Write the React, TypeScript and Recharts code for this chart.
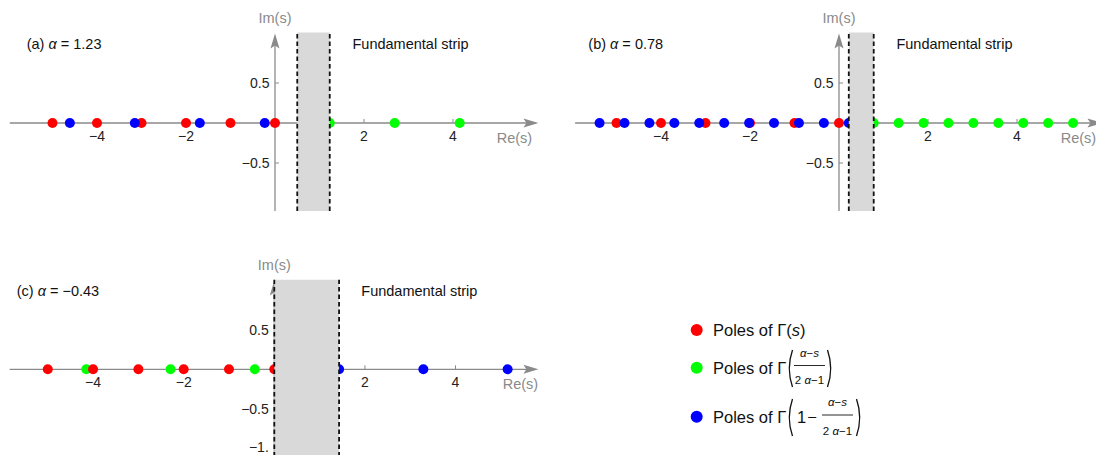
import React from "react";
import {
  ScatterChart,
  Scatter,
  XAxis,
  YAxis,
  ReferenceArea,
  ReferenceLine,
  ReferenceDot
} from "recharts";

const FONT = '"Liberation Sans", Arial, sans-serif';
const AXIS = "#8a8a8a";
const INK = "#222";

const redA = [0, -1, -2, -3, -4, -5];
const greenA = [1.23, 2.69, 4.15];
const blueA = [-0.23, -1.69, -3.15, -4.61];

const redB = [0, -1, -2, -3, -4, -5];
const greenB = [0.78, 1.34, 1.9, 2.46, 3.02, 3.58, 4.14, 4.7, 5.26];
const blueB = [0.22, -0.34, -0.9, -1.46, -2.02, -2.58, -3.14, -3.7, -4.26, -4.82, -5.38];

const redC = [0, -1, -2, -3, -4, -5];
const greenC = [-0.43, -2.29, -4.15];
const blueC = [1.43, 3.29, 5.15];

// fundamental strips [left, right]
const stripA = [0.5, 1.23];
const stripB = [0.22, 0.78];
const stripC = [0, 1.43];

const xTicks = [-4, -2, 2, 4];
const yTicksAB = [0.5, -0.5];
const yTicksC = [0.5, -0.5, -1];

const toPoints = (xs: number[]) => xs.map((x) => ({ x, y: 0 }));

const fmtX = (v: number) => (v < 0 ? "\u2212" + Math.abs(v) : String(v));
const fmtY = (v: number) => {
  const s = Number.isInteger(v) ? Math.abs(v) + "." : String(Math.abs(v));
  return v < 0 ? "\u2212" + s : s;
};

const dot = (color: string) => (p: any) => (
  <circle cx={p.cx} cy={p.cy} r={5} fill={color} />
);

const XArrow = (p: any, dx: number) => {
  const { x1, y1, x2, y2 } = p;
  return (
    <g>
      <line x1={x1} y1={y1} x2={x2 - 10} y2={y2} stroke={AXIS} strokeWidth={1.3} />
      <path
        d={`M${x2},${y2} L${x2 - 15},${y2 - 4.5} L${x2 - 12},${y2} L${x2 - 15},${y2 + 4.5} Z`}
        fill={AXIS}
      />
      <text
        x={x2 + dx}
        y={y2 + 15}
        textAnchor="middle"
        dominantBaseline="central"
        fontFamily={FONT}
        fontSize={14.5}
        fill={AXIS}
      >
        Re(s)
      </text>
    </g>
  );
};

const YArrow = (p: any) => {
  const { x1, y1, x2, y2 } = p;
  return (
    <g>
      <line x1={x1} y1={y1} x2={x2} y2={y2 + 10} stroke={AXIS} strokeWidth={1.3} />
      <path
        d={`M${x2},${y2} L${x2 - 4.5},${y2 + 15} L${x2},${y2 + 12} L${x2 + 4.5},${y2 + 15} Z`}
        fill={AXIS}
      />
      <text
        x={x2}
        y={y2 - 15}
        textAnchor="middle"
        dominantBaseline="central"
        fontFamily={FONT}
        fontSize={14.5}
        fill={AXIS}
      >
        Im(s)
      </text>
    </g>
  );
};

const XTick = (p: any, label: string) => (
  <g>
    <line x1={p.cx} y1={p.cy} x2={p.cx} y2={p.cy - 4} stroke={AXIS} strokeWidth={1} />
    <text
      x={p.cx}
      y={p.cy + 12.5}
      textAnchor="middle"
      dominantBaseline="central"
      fontFamily={FONT}
      fontSize={14}
      fill={INK}
    >
      {label}
    </text>
  </g>
);

const YTick = (p: any, label: string, dy: number) => (
  <g>
    <line x1={p.cx} y1={p.cy} x2={p.cx + 4} y2={p.cy} stroke={AXIS} strokeWidth={1} />
    <text
      x={p.cx - 5.5}
      y={p.cy + dy}
      textAnchor="end"
      dominantBaseline="central"
      fontFamily={FONT}
      fontSize={14}
      fill={INK}
    >
      {label}
    </text>
  </g>
);

type PanelCfg = {
  left: number;
  top: number;
  margin: { top: number; right: number; bottom: number; left: number };
  xDomain: [number, number];
  xStart: number;
  xEnd: number;
  reDx: number;
  red: number[];
  green: number[];
  blue: number[];
  strip: number[];
  yTicks: number[];
};

const Y_DOMAIN: [number, number] = [-1.1, 1.13];

function Panel({ cfg }: { cfg: PanelCfg }) {
  return (
    <div style={{ position: "absolute", left: cfg.left, top: cfg.top }}>
      <ScatterChart width={550} height={225} margin={cfg.margin}>
        <XAxis type="number" dataKey="x" domain={cfg.xDomain} hide allowDataOverflow />
        <YAxis type="number" dataKey="y" domain={Y_DOMAIN} hide allowDataOverflow />

        {/* axes through the origin */}
        <ReferenceLine
          segment={[{ x: cfg.xStart, y: 0 }, { x: cfg.xEnd, y: 0 }]}
          shape={(p: any) => XArrow(p, cfg.reDx)}
          zIndex={100}
        />
        <ReferenceLine
          segment={[{ x: 0, y: -1.1 }, { x: 0, y: 1.12 }]}
          shape={YArrow}
          zIndex={100}
        />
        {xTicks.map((t) => (
          <ReferenceDot
            key={"x" + t}
            x={t}
            y={0}
            shape={(p: any) => XTick(p, fmtX(t))}
            zIndex={100}
          />
        ))}
        {cfg.yTicks.map((t) => (
          <ReferenceDot
            key={"y" + t}
            x={0}
            y={t}
            shape={(p: any) => YTick(p, fmtY(t), t === -1 ? -2 : 0)}
            zIndex={100}
          />
        ))}

        <Scatter data={toPoints(cfg.green)} shape={dot("#00ff00")} isAnimationActive={false} zIndex={600} />
        <Scatter data={toPoints(cfg.red)} shape={dot("#ff0000")} isAnimationActive={false} zIndex={600} />
        <Scatter data={toPoints(cfg.blue)} shape={dot("#0000ff")} isAnimationActive={false} zIndex={600} />

        {/* fundamental strip sits on top of the poles */}
        <ReferenceArea
          x1={cfg.strip[0]}
          x2={cfg.strip[1]}
          fill="#d9d9d9"
          fillOpacity={1}
          stroke="none"
          zIndex={700}
        />
        <ReferenceLine x={cfg.strip[0]} stroke="#111" strokeWidth={1.8} strokeDasharray="4.5 3" zIndex={800} />
        <ReferenceLine x={cfg.strip[1]} stroke="#111" strokeWidth={1.8} strokeDasharray="4.5 3" zIndex={800} />
      </ScatterChart>
    </div>
  );
}

const panelA: PanelCfg = {
  left: 0,
  top: 0,
  margin: { top: 32.6, right: 8, bottom: 14, left: 8 },
  xDomain: [-6, 6],
  xStart: -5.96,
  xEnd: 5.92,
  reDx: -24,
  red: redA,
  green: greenA,
  blue: blueA,
  strip: stripA,
  yTicks: yTicksAB
};

const panelB: PanelCfg = {
  left: 564,
  top: 0,
  margin: { top: 32.6, right: 8, bottom: 14, left: 8 },
  xDomain: [-6, 6],
  xStart: -5.93,
  xEnd: 5.92,
  reDx: -24,
  red: redB,
  green: greenB,
  blue: blueB,
  strip: stripB,
  yTicks: yTicksAB
};

const panelC: PanelCfg = {
  left: 0,
  top: 247,
  margin: { top: 32.7, right: 8.4, bottom: 15.5, left: 7 },
  xDomain: [-5.9, 5.9],
  xStart: -5.84,
  xEnd: 5.83,
  reDx: -18,
  red: redC,
  green: greenC,
  blue: blueC,
  strip: stripC,
  yTicks: yTicksC
};

const txt = { fontFamily: FONT, fill: "#111", dominantBaseline: "central" as const };

function Title({ x, y, tag, alpha }: { x: number; y: number; tag: string; alpha: string }) {
  return (
    <text x={x} y={y} fontSize={14.5} {...txt}>
      {tag} <tspan fontStyle="italic">α</tspan> = {alpha}
    </text>
  );
}

const paren = (x: number, top: number, bottom: number, right = false) => {
  const mid = (top + bottom) / 2;
  const bow = right ? 4 : -4;
  return (
    <path
      d={`M${x},${top} Q${x + bow * 1.6},${mid} ${x},${bottom}`}
      stroke="#111"
      strokeWidth={1.3}
      fill="none"
    />
  );
};

function Frac({ cx, top, bar, bottom, w }: { cx: number; top: number; bar: number; bottom: number; w: number }) {
  return (
    <g>
      <text x={cx} y={top} fontSize={11.5} textAnchor="middle" {...txt}>
        <tspan fontStyle="italic">α</tspan>−<tspan fontStyle="italic">s</tspan>
      </text>
      <line x1={cx - w / 2} y1={bar} x2={cx + w / 2} y2={bar} stroke="#111" strokeWidth={0.9} />
      <text x={cx} y={bottom} fontSize={11.5} textAnchor="middle" {...txt}>
        2 <tspan fontStyle="italic">α</tspan>−1
      </text>
    </g>
  );
}

function Overlay() {
  return (
    <svg
      width={1096}
      height={455}
      style={{ position: "absolute", left: 0, top: 0, pointerEvents: "none" }}
    >
      <Title x={26.7} y={43.5} tag="(a)" alpha="1.23" />
      <Title x={588.3} y={43.5} tag="(b)" alpha="0.78" />
      <Title x={16.7} y={290.7} tag="(c)" alpha="−0.43" />
      <text x={352.5} y={43.5} fontSize={14.5} {...txt}>Fundamental strip</text>
      <text x={896.4} y={43.5} fontSize={14.5} {...txt}>Fundamental strip</text>
      <text x={361.3} y={290.7} fontSize={14.5} {...txt}>Fundamental strip</text>

      {/* legend */}
      <circle cx={696.7} cy={330} r={6} fill="#ff0000" />
      <text x={713} y={330} fontSize={16.5} {...txt}>
        Poles of Γ(<tspan fontStyle="italic">s</tspan>)
      </text>

      <circle cx={696.7} cy={367.7} r={6} fill="#00ff00" />
      <text x={713} y={367.7} fontSize={16.5} {...txt}>Poles of Γ</text>
      {paren(792.5, 350, 387)}
      <Frac cx={809.5} top={353} bar={365.5} bottom={379.5} w={31} />
      {paren(827.5, 350, 387, true)}

      <circle cx={696.7} cy={416.7} r={6} fill="#0000ff" />
      <text x={713} y={416.7} fontSize={16.5} {...txt}>Poles of Γ</text>
      {paren(792.5, 399, 436)}
      <text x={801.7} y={416.7} fontSize={16.5} textAnchor="middle" {...txt}>1</text>
      <text x={812} y={416.7} fontSize={16.5} textAnchor="middle" {...txt}>−</text>
      <Frac cx={837.5} top={402} bar={415} bottom={430.5} w={31} />
      {paren(856.5, 399, 436, true)}
    </svg>
  );
}

export default function App() {
  return (
    <div
      style={{
        position: "absolute",
        left: 0,
        top: 0,
        width: 1096,
        height: 455,
        overflow: "hidden",
        background: "#fff"
      }}
    >
      <Panel cfg={panelA} />
      <Panel cfg={panelB} />
      <Panel cfg={panelC} />
      <Overlay />
    </div>
  );
}
